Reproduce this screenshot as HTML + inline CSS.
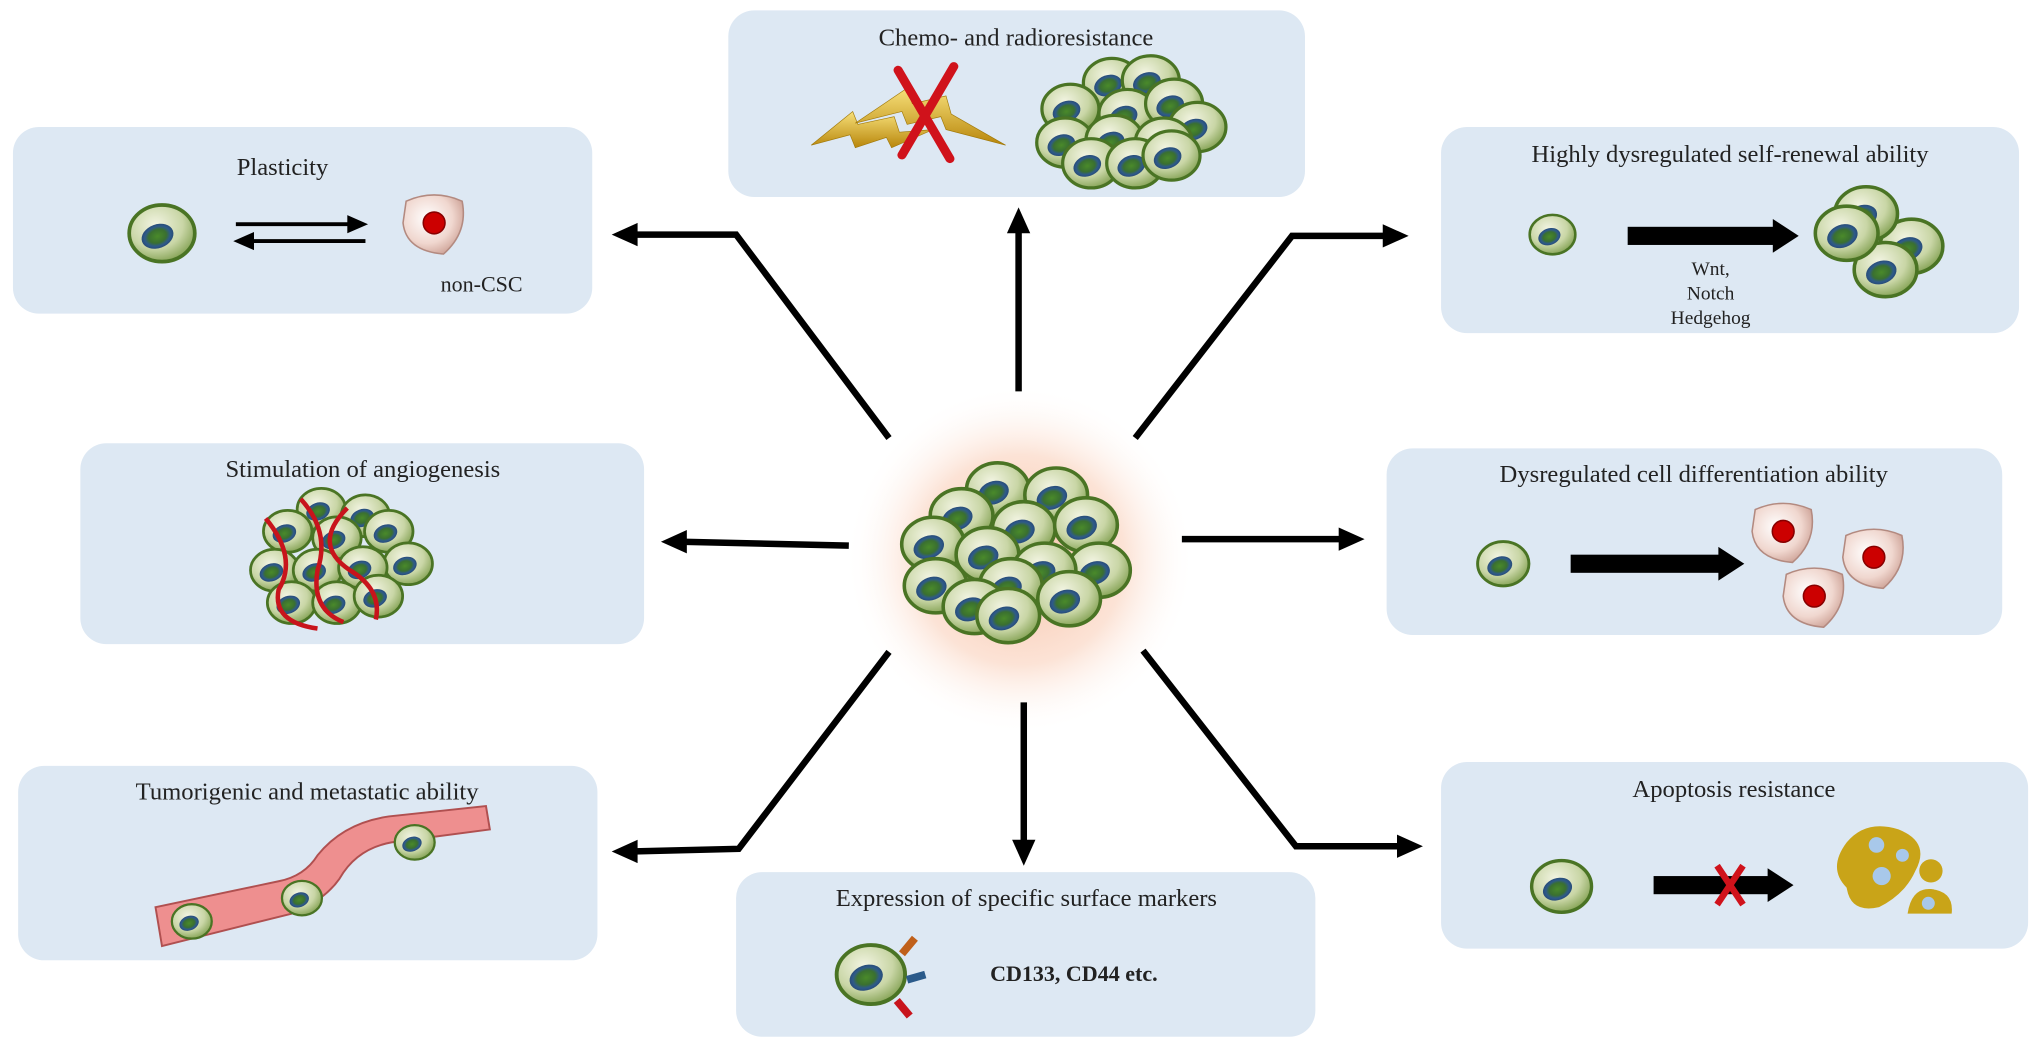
<!DOCTYPE html>
<html><head><meta charset="utf-8"><style>
html,body{margin:0;padding:0;background:#fff;}
svg{display:block;}
text{font-family:"Liberation Serif",serif;fill:#222;}
</style></head><body>
<svg width="2032" height="1050" viewBox="0 0 1568 810.2" xmlns="http://www.w3.org/2000/svg">
<defs>
<radialGradient id="cg" cx="0.4" cy="0.35" r="0.7"><stop offset="0" stop-color="#f2f4e2"/><stop offset="0.6" stop-color="#c9d6a6"/><stop offset="1" stop-color="#7f9e4e"/></radialGradient>
<radialGradient id="ng" cx="0.5" cy="0.5" r="0.5"><stop offset="0" stop-color="#4a8a2a"/><stop offset="0.55" stop-color="#3a7030"/><stop offset="0.8" stop-color="#2e5a8a"/><stop offset="1" stop-color="#284c78"/></radialGradient>
<radialGradient id="glow" cx="0.5" cy="0.5" r="0.5"><stop offset="0" stop-color="#f7c4aa"/><stop offset="0.6" stop-color="#fce3d6"/><stop offset="1" stop-color="#fff" stop-opacity="0"/></radialGradient>
<radialGradient id="pg" cx="0.4" cy="0.4" r="0.7"><stop offset="0" stop-color="#fff"/><stop offset="0.6" stop-color="#f0d7cf"/><stop offset="1" stop-color="#c89a8e"/></radialGradient>
<linearGradient id="bolt" x1="0" y1="0" x2="0" y2="1"><stop offset="0" stop-color="#f7e07a"/><stop offset="1" stop-color="#b8860b"/></linearGradient>
<g id="cell"><ellipse cx="0" cy="0" rx="22" ry="19" fill="url(#cg)" stroke="#4a7424" stroke-width="2.5"/><ellipse cx="-3" cy="2" rx="11" ry="8" transform="rotate(-20 -3 2)" fill="url(#ng)"/></g>
<g id="ncsc"><path d="M-18,-14 Q0,-22 18,-14 Q22,6 6,20 Q-18,18 -20,0 Z" fill="url(#pg)" stroke="#b38a80" stroke-width="1"/><circle cx="0" cy="0" r="7" fill="#c00" stroke="#800" stroke-width="1"/></g>
</defs>

<g fill="#dde8f3">
<rect x="10" y="98" width="447" height="144" rx="20"/>
<rect x="562" y="8" width="445" height="144" rx="20"/>
<rect x="1112" y="98" width="446" height="159" rx="20"/>
<rect x="62" y="342" width="435" height="155" rx="20"/>
<rect x="1070" y="346" width="475" height="144" rx="20"/>
<rect x="14" y="591" width="447" height="150" rx="20"/>
<rect x="568" y="673" width="447" height="127" rx="20"/>
<rect x="1112" y="588" width="453" height="144" rx="20"/>
</g>

<circle cx="787" cy="432" r="135" fill="url(#glow)"/>

<g stroke="#000" stroke-width="5" fill="none">
<polyline points="686,338 568,181 488,181"/>
<line x1="786" y1="302" x2="786" y2="176"/>
<polyline points="876,338 997,182 1070,182"/>
<line x1="655" y1="421" x2="526" y2="418"/>
<line x1="912" y1="416" x2="1036" y2="416"/>
<polyline points="686,503 570,655 488,657"/>
<line x1="790" y1="542" x2="790" y2="651"/>
<polyline points="882,502 1000,653 1081,653"/>
</g>
<g fill="#000">
<polygon points="472,181 492,172 492,190"/>
<polygon points="786,160 777,180 795,180"/>
<polygon points="1087,182 1067,173 1067,191"/>
<polygon points="510,418 530,409 530,427"/>
<polygon points="1053,416 1033,407 1033,425"/>
<polygon points="472,657 492,648 492,666"/>
<polygon points="790,668 781,648 799,648"/>
<polygon points="1098,653 1078,644 1078,662"/>
</g>

<g>
<use href="#cell" transform="translate(770,378) scale(1.1)"/>
<use href="#cell" transform="translate(815,382) scale(1.1)"/>
<use href="#cell" transform="translate(742,398) scale(1.1)"/>
<use href="#cell" transform="translate(790,408) scale(1.1)"/>
<use href="#cell" transform="translate(838,405) scale(1.1)"/>
<use href="#cell" transform="translate(720,420) scale(1.1)"/>
<use href="#cell" transform="translate(762,428) scale(1.1)"/>
<use href="#cell" transform="translate(848,440) scale(1.1)"/>
<use href="#cell" transform="translate(806,440) scale(1.1)"/>
<use href="#cell" transform="translate(722,452) scale(1.1)"/>
<use href="#cell" transform="translate(780,452) scale(1.1)"/>
<use href="#cell" transform="translate(825,462) scale(1.1)"/>
<use href="#cell" transform="translate(752,468) scale(1.1)"/>
<use href="#cell" transform="translate(778,475) scale(1.1)"/>
</g>

<text x="218" y="135" font-size="19" text-anchor="middle">Plasticity</text>
<use href="#cell" transform="translate(125,180) scale(1.15)"/>
<g stroke="#000" stroke-width="3"><line x1="182" y1="173" x2="272" y2="173"/><line x1="190" y1="186" x2="282" y2="186"/></g>
<polygon points="284,173 268,166 268,180" fill="#000"/><polygon points="180,186 196,179 196,193" fill="#000"/>
<use href="#ncsc" transform="translate(335,172) scale(1.2)"/>
<text x="340" y="225" font-size="17">non-CSC</text>

<text x="784" y="35" font-size="19" text-anchor="middle">Chemo- and radioresistance</text>
<g fill="url(#bolt)" stroke="#a07808" stroke-width="0.5">
<polygon points="626,112 658,86 662,96 690,90 694,102 720,100 688,114 684,106 660,114 656,104"/>
<polygon points="660,95 700,68 704,80 730,74 734,88 776,112 730,100 726,90 700,96 696,86"/>
</g>
<g stroke="#d0121b" stroke-width="7" stroke-linecap="round"><line x1="693" y1="78" x2="733" y2="150" transform="translate(0,-20) scale(1,0.95)"/><line x1="736" y1="75" x2="696" y2="147" transform="translate(0,-20) scale(1,0.95)"/></g>
<g>
<use href="#cell" transform="translate(858,64)"/>
<use href="#cell" transform="translate(888,62)"/>
<use href="#cell" transform="translate(826,84)"/>
<use href="#cell" transform="translate(870,88)"/>
<use href="#cell" transform="translate(906,80)"/>
<use href="#cell" transform="translate(924,98)"/>
<use href="#cell" transform="translate(822,110)"/>
<use href="#cell" transform="translate(860,108)"/>
<use href="#cell" transform="translate(898,110)"/>
<use href="#cell" transform="translate(842,126)"/>
<use href="#cell" transform="translate(876,126)"/>
<use href="#cell" transform="translate(904,120)"/>
</g>

<text x="1335" y="125" font-size="19" text-anchor="middle">Highly dysregulated self-renewal ability</text>
<use href="#cell" transform="translate(1198,181) scale(0.8)"/>
<rect x="1256" y="175" width="114" height="14" fill="#000"/>
<polygon points="1388,182 1368,169 1368,195" fill="#000"/>
<text x="1320" y="212" font-size="15" text-anchor="middle">Wnt,</text>
<text x="1320" y="231" font-size="15" text-anchor="middle">Notch</text>
<text x="1320" y="250" font-size="15" text-anchor="middle">Hedgehog</text>
<use href="#cell" transform="translate(1475,190) scale(1.1)"/>
<use href="#cell" transform="translate(1440,165) scale(1.1)"/>
<use href="#cell" transform="translate(1455,208) scale(1.1)"/>
<use href="#cell" transform="translate(1425,180) scale(1.1)"/>

<text x="280" y="368" font-size="19" text-anchor="middle">Stimulation of angiogenesis</text>
<g>
<use href="#cell" transform="translate(248,393) scale(0.85)"/>
<use href="#cell" transform="translate(282,398) scale(0.85)"/>
<use href="#cell" transform="translate(222,410) scale(0.85)"/>
<use href="#cell" transform="translate(260,415) scale(0.85)"/>
<use href="#cell" transform="translate(300,410) scale(0.85)"/>
<use href="#cell" transform="translate(315,435) scale(0.85)"/>
<use href="#cell" transform="translate(212,440) scale(0.85)"/>
<use href="#cell" transform="translate(245,440) scale(0.85)"/>
<use href="#cell" transform="translate(280,438) scale(0.85)"/>
<use href="#cell" transform="translate(225,465) scale(0.85)"/>
<use href="#cell" transform="translate(260,465) scale(0.85)"/>
<use href="#cell" transform="translate(292,460) scale(0.85)"/>
</g>
<g stroke="#c8141c" stroke-width="3.5" fill="none">
<path d="M205,400 Q230,430 215,455 Q210,480 245,485"/>
<path d="M232,385 Q255,410 245,440 Q240,470 265,480"/>
<path d="M268,392 Q240,420 270,440 Q295,455 290,478"/>
</g>

<text x="1307" y="372" font-size="19" text-anchor="middle">Dysregulated cell differentiation ability</text>
<use href="#cell" transform="translate(1160,435) scale(0.9)"/>
<rect x="1212" y="428" width="122" height="14" fill="#000"/>
<polygon points="1346,435 1326,422 1326,448" fill="#000"/>
<use href="#ncsc" transform="translate(1376,410) scale(1.2)"/>
<use href="#ncsc" transform="translate(1446,430) scale(1.2)"/>
<use href="#ncsc" transform="translate(1400,460) scale(1.2)"/>

<text x="237" y="617" font-size="19" text-anchor="middle">Tumorigenic and metastatic ability</text>
<path d="M120,700 L215,680 Q235,676 245,660 Q265,635 300,630 L375,622 L378,640 L302,650 Q275,655 262,678 Q250,695 225,705 L125,730 Z" fill="#ee8f8f" stroke="#b05050" stroke-width="1.5"/>
<use href="#cell" transform="translate(148,711) scale(0.7)"/>
<use href="#cell" transform="translate(233,693) scale(0.7)"/>
<use href="#cell" transform="translate(320,650) scale(0.7)"/>

<text x="792" y="699" font-size="19" text-anchor="middle">Expression of specific surface markers</text>
<use href="#cell" transform="translate(672,752) scale(1.2)"/>
<g stroke-width="6"><line x1="696" y1="736" x2="706" y2="724" stroke="#c0601a"/><line x1="700" y1="756" x2="714" y2="752" stroke="#2a5a8a"/><line x1="692" y1="772" x2="702" y2="784" stroke="#c8141c"/></g>
<text x="764" y="757" font-size="17" font-weight="bold">CD133, CD44 etc.</text>

<text x="1338" y="615" font-size="19" text-anchor="middle">Apoptosis resistance</text>
<use href="#cell" transform="translate(1205,684) scale(1.05)"/>
<rect x="1276" y="676" width="92" height="14" fill="#000"/>
<polygon points="1384,683 1364,670 1364,696" fill="#000"/>
<g stroke="#d0121b" stroke-width="5"><line x1="1325" y1="668" x2="1345" y2="698"/><line x1="1345" y1="668" x2="1325" y2="698"/></g>
<path d="M1425,650 Q1440,632 1465,640 Q1490,650 1478,672 Q1470,690 1450,700 Q1428,705 1425,685 Q1410,670 1425,650 Z" fill="#c9a418"/>
<circle cx="1448" cy="652" r="6" fill="#a8c8ea"/><circle cx="1468" cy="660" r="5" fill="#a8c8ea"/><circle cx="1452" cy="676" r="7" fill="#a8c8ea"/>
<circle cx="1490" cy="672" r="9" fill="#c9a418"/>
<path d="M1472,705 Q1475,685 1490,686 Q1508,688 1506,705 Z" fill="#c9a418"/>
<circle cx="1488" cy="697" r="5" fill="#a8c8ea"/>
</svg>
</body></html>
